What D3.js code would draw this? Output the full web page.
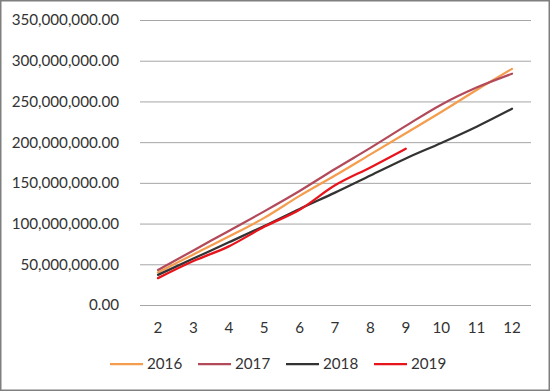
<!DOCTYPE html>
<html><head><meta charset="utf-8">
<script src="https://cdn.jsdelivr.net/npm/d3@7"></script>
<style>
html,body{margin:0;padding:0;background:#fff;}
svg{display:block;}
text{font-family:Lato,"Open Sans",sans-serif;fill:#333;}
</style></head>
<body>
<svg id="chart" width="550" height="391"></svg>
<script>
const categories = [2,3,4,5,6,7,8,9,10,11,12];
const yTicks = [0,50e6,100e6,150e6,200e6,250e6,300e6,350e6];
const seriesNames = ["2016","2017","2018","2019"];
const values2016 = [40e6,62e6,84e6,107e6,134e6,159e6,185e6,211e6,237e6,264e6,290e6];
const values2017 = [43e6,67e6,91e6,115e6,140e6,167e6,193e6,220e6,246e6,267e6,284e6];
const values2018 = [37e6,57e6,77e6,97e6,118e6,138e6,159e6,180e6,199e6,219e6,241e6];
const values2019 = [33e6,54e6,72e6,96e6,117e6,147e6,169e6,192e6];
const colors = ["#F59D4E","#B34A5A","#333333","#E8141C"];

const series = [values2016,values2017,values2018,values2019].map((v,i)=>({name:seriesNames[i],values:v,color:colors[i]}));

const svg = d3.select("#chart");
svg.append("rect").attr("x",0.75).attr("y",0.75).attr("width",548.5).attr("height",389.5)
  .attr("fill","#fff").attr("stroke","#7f7f7f").attr("stroke-width",1.5);

const x = d3.scaleBand().domain(categories).range([140.3,529.7]);
const y = d3.scaleLinear().domain([0,350e6]).range([305,20]);

const fmt = d3.format(",.2f");
const yAxis = d3.axisLeft(y).tickValues(yTicks).tickFormat(fmt).tickSize(-(531-140)).tickPadding(21);
const gy = svg.append("g").attr("transform","translate(140,0)").call(yAxis);
gy.select(".domain").remove();
gy.selectAll(".tick line").attr("stroke","#a6a6a6").attr("stroke-width",1);
gy.selectAll(".tick text").attr("font-size","15.2px").attr("fill","#333").style("font-family","Lato, 'Open Sans', sans-serif");

const xAxis = d3.axisBottom(x).tickSize(0).tickPadding(17);
const gx = svg.append("g").attr("transform","translate(0,305)").call(xAxis);
gx.select(".domain").remove();
gx.selectAll(".tick text").attr("font-size","15.2px").attr("fill","#333").style("font-family","Lato, 'Open Sans', sans-serif");

const line = d3.line().x((d,i)=>x(categories[i])+x.bandwidth()/2).y(d=>y(d)).curve(d3.curveMonotoneX);
svg.append("g").selectAll("path").data(series).join("path")
  .attr("d",d=>line(d.values)).attr("fill","none").attr("stroke",d=>d.color)
  .attr("stroke-width",2.25).attr("stroke-linejoin","round").attr("stroke-linecap","round");

const legendX = [110,198,286,374];
const lg = svg.append("g").selectAll("g").data(series).join("g")
  .attr("transform",(d,i)=>`translate(${legendX[i]},364)`);
lg.append("line").attr("x1",0).attr("x2",33).attr("y1",0).attr("y2",0)
  .attr("stroke",d=>d.color).attr("stroke-width",2.25);
lg.append("text").attr("x",37).attr("y",5).attr("font-size","15.2px").text(d=>d.name);
</script>
</body></html>
